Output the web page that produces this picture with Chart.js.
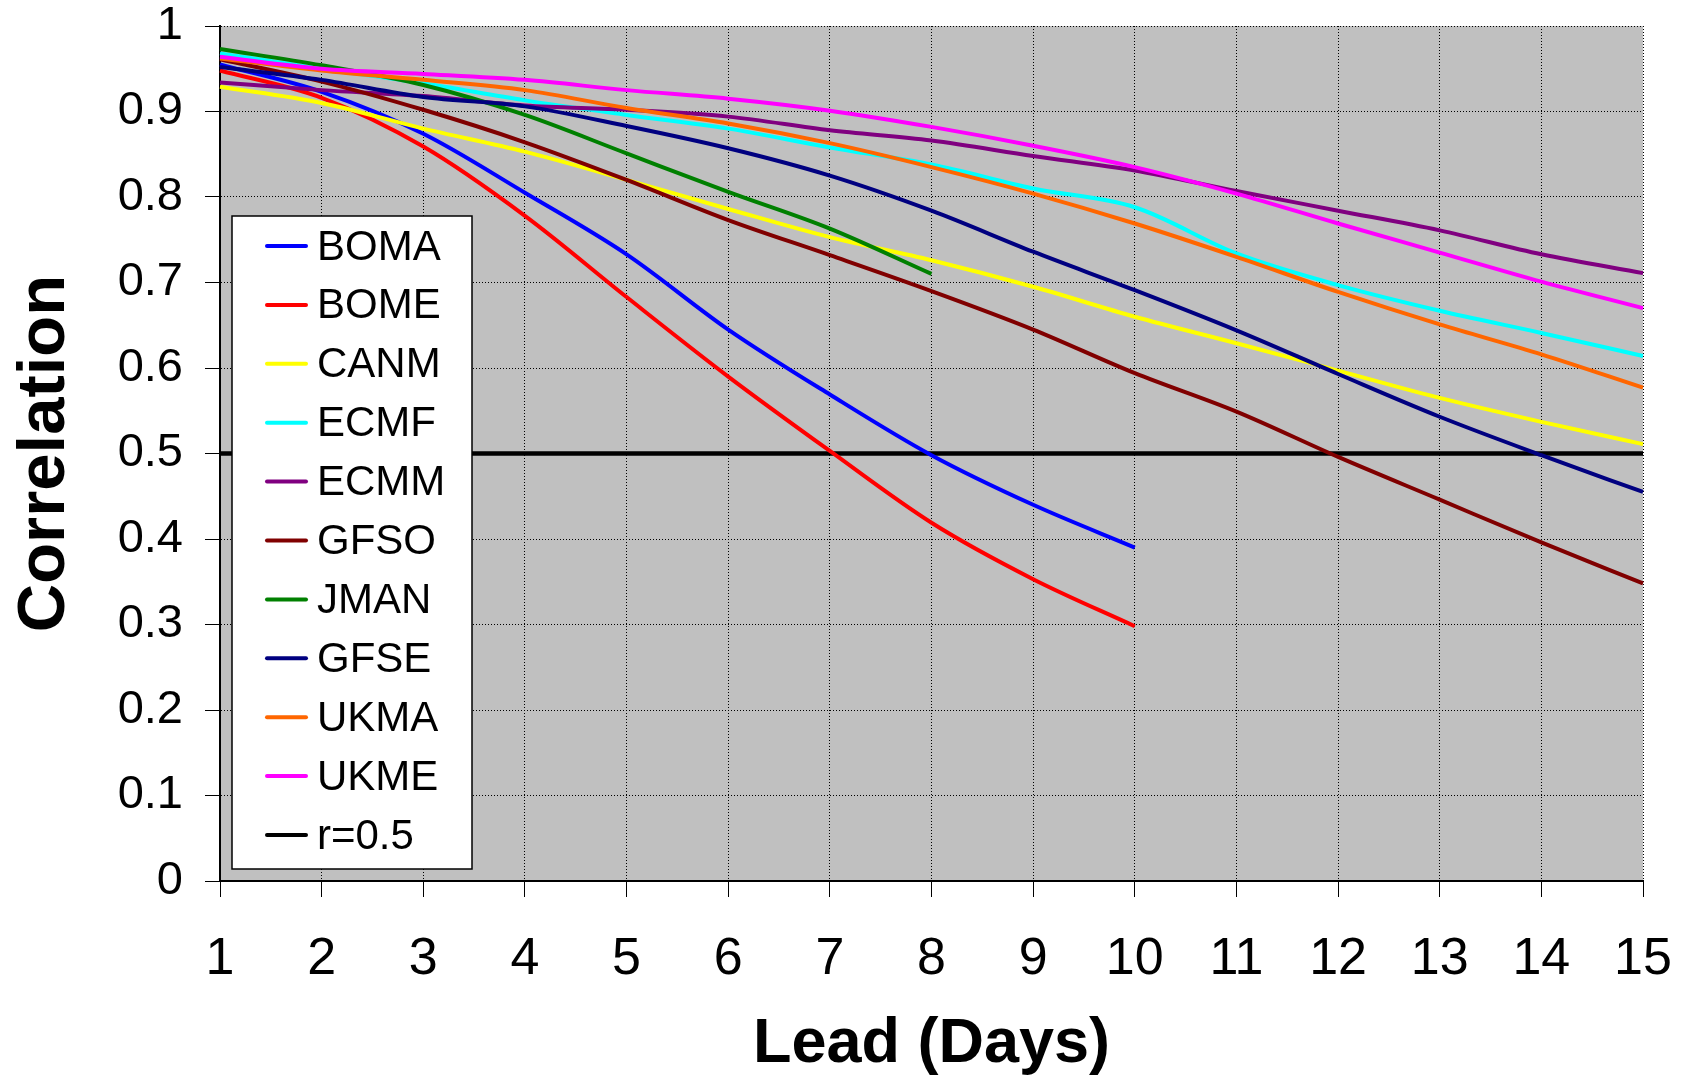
<!DOCTYPE html>
<html>
<head>
<meta charset="utf-8">
<script src="https://cdn.jsdelivr.net/npm/chart.js@4.4.1/dist/chart.umd.min.js"></script>
<style>
  html, body { margin: 0; padding: 0; background: #fff; }
  canvas { display: block; }
</style>
</head>
<body>
<canvas id="grafico" width="1682" height="1081"></canvas>
<script>
// lead days on the x axis
const leads = ['1', '2', '3', '4', '5', '6', '7', '8', '9', '10', '11', '12', '13', '14', '15'];
const yTickLabels = ['0', '0.1', '0.2', '0.3', '0.4', '0.5', '0.6', '0.7', '0.8', '0.9', '1'];

// correlation per model
const boma = [0.955, 0.923, 0.874, 0.805, 0.733, 0.645, 0.569, 0.498, 0.440, 0.390];
const bome = [0.948, 0.916, 0.859, 0.778, 0.683, 0.590, 0.503, 0.419, 0.353, 0.298];
const canm = [0.929, 0.910, 0.880, 0.853, 0.820, 0.786, 0.753, 0.726, 0.695, 0.660, 0.629, 0.597, 0.565, 0.537, 0.511];
const ecmf = [0.968, 0.950, 0.933, 0.913, 0.896, 0.880, 0.858, 0.838, 0.810, 0.788, 0.734, 0.697, 0.667, 0.641, 0.614];
const ecmm = [0.934, 0.925, 0.918, 0.907, 0.902, 0.894, 0.878, 0.866, 0.848, 0.831, 0.807, 0.784, 0.761, 0.733, 0.711];
const gfso = [0.961, 0.935, 0.902, 0.864, 0.820, 0.773, 0.732, 0.690, 0.645, 0.594, 0.549, 0.496, 0.446, 0.396, 0.348];
const jman = [0.973, 0.954, 0.931, 0.896, 0.851, 0.806, 0.763, 0.710];
const gfse = [0.952, 0.937, 0.917, 0.906, 0.883, 0.857, 0.825, 0.784, 0.736, 0.691, 0.644, 0.593, 0.543, 0.498, 0.455];
const ukma = [0.962, 0.948, 0.937, 0.925, 0.904, 0.886, 0.863, 0.835, 0.804, 0.769, 0.730, 0.689, 0.651, 0.616, 0.577];
const ukme = [0.964, 0.950, 0.944, 0.937, 0.925, 0.915, 0.901, 0.882, 0.860, 0.835, 0.804, 0.769, 0.735, 0.701, 0.670];
const rHalf = [0.5, 0.5, 0.5, 0.5, 0.5, 0.5, 0.5, 0.5, 0.5, 0.5, 0.5, 0.5, 0.5, 0.5, 0.5];

const series = [
  ['BOMA', boma, '#0000ff'],
  ['BOME', bome, '#ff0000'],
  ['CANM', canm, '#ffff00'],
  ['ECMF', ecmf, '#00ffff'],
  ['ECMM', ecmm, '#800080'],
  ['GFSO', gfso, '#800000'],
  ['JMAN', jman, '#008000'],
  ['GFSE', gfse, '#000080'],
  ['UKMA', ukma, '#ff6600'],
  ['UKME', ukme, '#ff00ff'],
  ['r=0.5', rHalf, '#000000']
];

const datasets = series.map(([label, data, color], i) => ({
  label: label,
  data: data,
  borderColor: color,
  backgroundColor: color,
  borderWidth: label === 'r=0.5' ? 4.5 : 4,
  pointRadius: 0,
  fill: false,
  cubicInterpolationMode: 'monotone',
  // later series drawn on top, the r=0.5 line at the bottom
  order: label === 'r=0.5' ? 100 : series.length - i
}));

const fondo = {
  id: 'fondo',
  beforeDraw(chart) {
    const { ctx, chartArea } = chart;
    ctx.save();
    ctx.fillStyle = '#ffffff';
    ctx.fillRect(0, 0, chart.width, chart.height);
    ctx.fillStyle = '#c0c0c0';
    ctx.fillRect(chartArea.left, chartArea.top, chartArea.right - chartArea.left, chartArea.bottom - chartArea.top);
    ctx.restore();
  }
};

const leyenda = {
  id: 'leyenda',
  afterDatasetsDraw(chart) {
    const { ctx, chartArea } = chart;
    const x = chartArea.left + 12, y = chartArea.top + 190, w = 240, h = 653;
    ctx.save();
    ctx.fillStyle = '#ffffff';
    ctx.fillRect(x, y, w, h);
    ctx.strokeStyle = '#000000';
    ctx.lineWidth = 1.5;
    ctx.strokeRect(x, y, w, h);
    ctx.font = '42px "Liberation Sans", Arial, sans-serif';
    ctx.textBaseline = 'middle';
    chart.data.datasets.forEach((ds, i) => {
      const cy = y + 30 + i * 58.9;
      ctx.strokeStyle = ds.borderColor;
      ctx.lineWidth = 4;
      ctx.lineCap = 'round';
      ctx.beginPath();
      ctx.moveTo(x + 35, cy);
      ctx.lineTo(x + 74, cy);
      ctx.stroke();
      ctx.fillStyle = '#000000';
      ctx.fillText(ds.label, x + 85, cy + 2);
    });
    ctx.restore();
  }
};

// x tick labels and axis title, placed from the x scale
const ejeX = {
  id: 'ejeX',
  afterDraw(chart) {
    const { ctx, chartArea } = chart;
    const sx = chart.scales.x;
    ctx.save();
    ctx.fillStyle = '#000000';
    ctx.textAlign = 'center';
    ctx.textBaseline = 'alphabetic';
    ctx.font = '52px "Liberation Sans", Arial, sans-serif';
    sx.ticks.forEach((t, i) => {
      ctx.fillText(leads[i], sx.getPixelForTick(i), chartArea.bottom + 93);
    });
    ctx.font = 'bold 63px "Liberation Sans", Arial, sans-serif';
    ctx.fillText('Lead (Days)', (chartArea.left + chartArea.right) / 2, chartArea.bottom + 181);
    ctx.restore();
  }
};

new Chart(document.getElementById('grafico').getContext('2d'), {
  type: 'line',
  data: { labels: leads, datasets: datasets },
  options: {
    responsive: false,
    animation: false,
    layout: { padding: { top: 26, right: 39, left: 0, bottom: 0 } },
    plugins: {
      legend: { display: false },
      tooltip: { enabled: false }
    },
    scales: {
      x: {
        type: 'category',
        offset: false,
        grid: { color: '#000000', lineWidth: 1, tickLength: 16, tickColor: '#000000' },
        border: { display: true, color: '#000000', width: 2, dash: [1, 2] },
        ticks: { display: false, autoSkip: false },
        afterFit(scale) {
          scale.height = 200;
          scale.paddingLeft = 0;
          scale.paddingRight = 0;
        }
      },
      y: {
        min: 0,
        max: 1,
        grid: { color: '#000000', lineWidth: 1, tickLength: 15, tickColor: '#000000' },
        border: { display: true, color: '#000000', width: 2, dash: [1, 2] },
        ticks: {
          stepSize: 0.1,
          color: '#000000',
          padding: 22,
          font: { family: '"Liberation Sans", Arial, sans-serif', size: 47 },
          callback: (v, i) => yTickLabels[i]
        },
        title: {
          display: true,
          text: 'Correlation',
          color: '#000000',
          padding: { top: 12, bottom: 0 },
          font: { family: '"Liberation Sans", Arial, sans-serif', size: 67, weight: 'bold', lineHeight: 1 }
        },
        afterFit(scale) {
          scale.width = 220;
          scale.paddingTop = 0;
          scale.paddingBottom = 0;
        }
      }
    }
  },
  plugins: [fondo, leyenda, ejeX]
});
</script>
</body>
</html>
